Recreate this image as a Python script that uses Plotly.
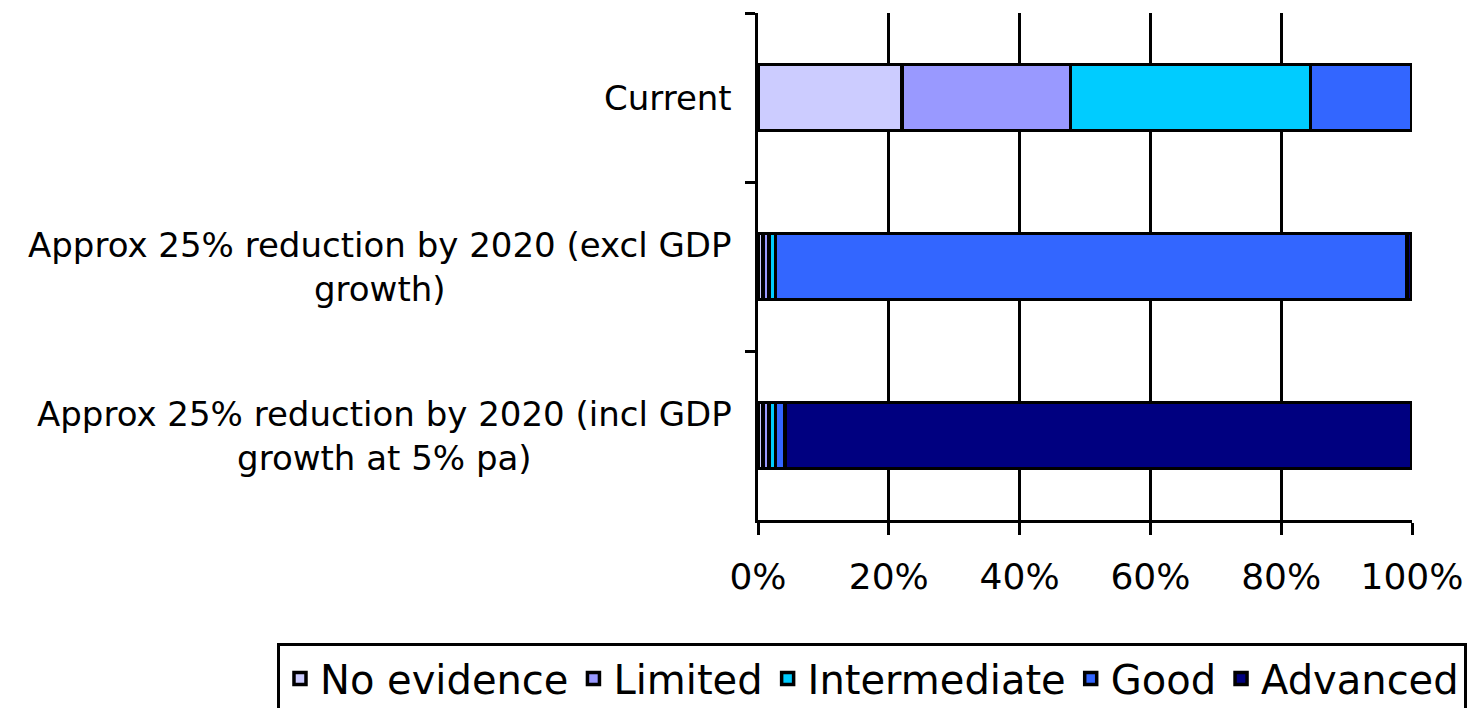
import plotly.graph_objects as go

categories = [
    "Current",
    "Approx 25% reduction by 2020 (excl GDP<br>growth)",
    "Approx 25% reduction by 2020 (incl GDP<br>growth at 5% pa)",
]
series_names = ["No evidence", "Limited", "Intermediate", "Good", "Advanced"]
no_evidence = [22.0, 0.8, 0.8]
limited = [25.8, 0.9, 0.9]
intermediate = [36.7, 1.0, 1.0]
good = [15.5, 96.5, 1.4]
advanced = [None, 0.8, 95.9]
colors = ["#CCCCFF", "#9999FF", "#00CCFF", "#3366FF", "#000080"]
x_ticks = [0, 20, 40, 60, 80, 100]
x_ticktext = ["0%", "20%", "40%", "60%", "80%", "100%"]

series = [no_evidence, limited, intermediate, good, advanced]

fig = go.Figure()
for name, vals, col in zip(series_names, series, colors):
    fig.add_trace(go.Bar(
        y=categories, x=vals, name=name, orientation="h",
        marker=dict(color=col, line=dict(color="black", width=3.5)),
    ))

for cat in categories:
    fig.add_annotation(
        x=0, xref="paper", y=cat, yref="y", text=cat, showarrow=False,
        xanchor="right", yanchor="middle", align="center", xshift=-24,
        font=dict(family="DejaVu Sans", size=34, color="black"),
    )

fig.update_layout(
    barmode="stack", bargap=0.61,
    width=1479, height=708,
    margin=dict(l=758, r=67, t=13, b=188, autoexpand=False),
    plot_bgcolor="white", paper_bgcolor="white",
    font=dict(family="DejaVu Sans", color="black"),
    legend=dict(
        orientation="h", x=-0.7355, y=-0.2426, xanchor="left", yanchor="top",
        bordercolor="black", borderwidth=3, font=dict(size=40),
        traceorder="normal",
    ),
)
fig.update_xaxes(
    range=[0, 100], tickvals=x_ticks, ticktext=x_ticktext,
    showgrid=True, gridcolor="black", gridwidth=2.5,
    showline=True, linecolor="black", linewidth=3,
    ticks="outside", ticklen=12, tickwidth=2.5, tickcolor="black",
    tickfont=dict(size=36), zeroline=False, ticklabelstandoff=11,
)
fig.update_yaxes(
    categoryorder="array", categoryarray=categories, autorange="reversed",
    tickson="boundaries", ticks="outside", ticklen=10, tickwidth=2.5,
    tickcolor="black", showticklabels=False,
    showline=True, linecolor="black", linewidth=3, showgrid=False,
)

fig.write_html("out.html")
